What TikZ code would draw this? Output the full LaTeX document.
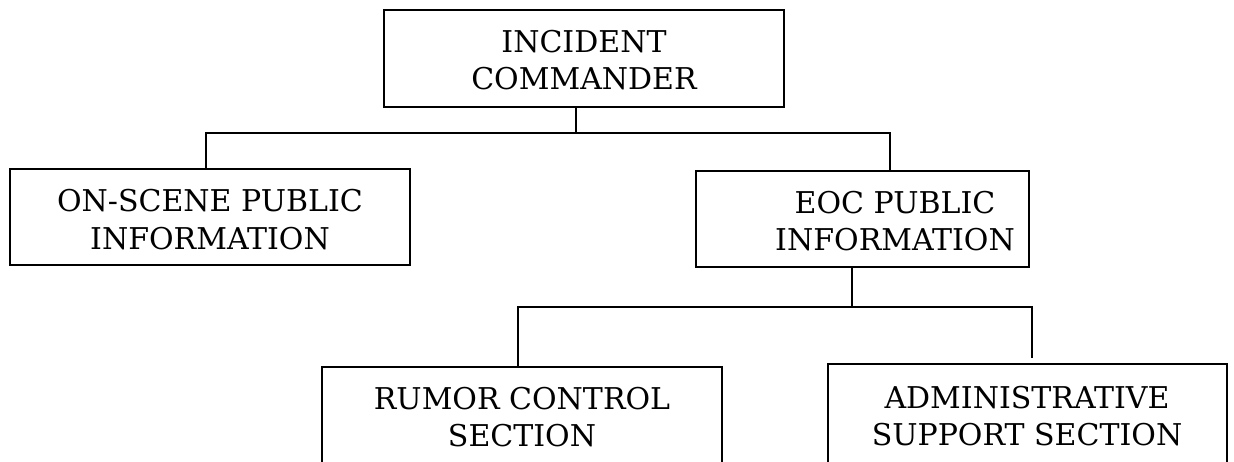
\documentclass[tikz,border=0pt]{standalone}
\usepackage{fontspec}
\setmainfont{DejaVu Serif}
\begin{document}
\begin{tikzpicture}[x=1pt,y=-1pt,
  orgbox/.style={draw=black, line width=1.2pt, rectangle, inner sep=0pt},
  boxtext/.style={align=center, inner sep=0pt,
    font=\fontsize{30}{37.5}\selectfont},
  link/.style={draw=black, line width=1.2pt}]
\useasboundingbox (0,0) rectangle (1234,462);
\clip (0,0) rectangle (1234,462);

% boxes
\node[orgbox, minimum width=400, minimum height=97] (ic)  at (584,58.5) {};
\node[orgbox, minimum width=400, minimum height=96] (osp) at (210,217) {};
\node[orgbox, minimum width=333, minimum height=96] (eoc) at (862.5,219) {};
\node[orgbox, minimum width=400, minimum height=104] (rc) at (522,419) {};
\node[orgbox, minimum width=399, minimum height=104] (adm) at (1027.5,416) {};

% box texts
\node[boxtext] (ic-t)  at (584,60)    {INCIDENT\\COMMANDER};
\node[boxtext] (osp-t) at (210,219.5) {ON-SCENE PUBLIC\\INFORMATION};
\node[boxtext] (eoc-t) at (895,221)   {EOC PUBLIC\\INFORMATION};
\node[boxtext] (rc-t)  at (522,417)   {RUMOR CONTROL\\SECTION};
\node[boxtext] (adm-t) at (1027,416)  {ADMINISTRATIVE\\SUPPORT SECTION};

% upper bus
\coordinate (b1M) at (576,133);
\coordinate (b1L) at (206,133);
\coordinate (b1R) at (890,133);
\draw[link] (b1M |- ic.south) -- (b1M);
\draw[link] (b1L |- osp.north) -- (b1L) -- (b1R) -- (b1R |- eoc.north);

% lower bus
\coordinate (b2M) at (852,307);
\coordinate (b2L) at (518,307);
\coordinate (b2R) at (1032,307);
\coordinate (b2E) at (1032,358);
\draw[link] (b2M |- eoc.south) -- (b2M);
\draw[link] (b2L |- rc.north) -- (b2L) -- (b2R) -- (b2E);
\end{tikzpicture}
\end{document}
